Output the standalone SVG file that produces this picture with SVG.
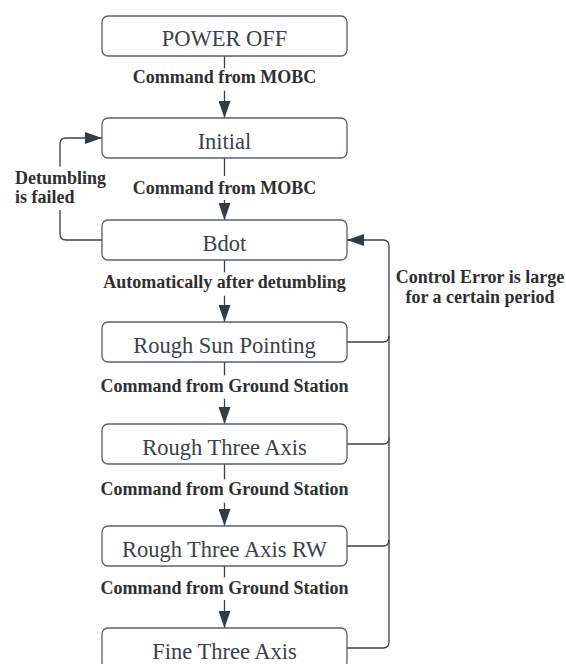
<svg xmlns="http://www.w3.org/2000/svg" width="566" height="664" viewBox="0 0 566 664">
  <style>
    .box { fill: #ffffff; stroke: #5a616b; stroke-width: 1.3; }
    .state { font-family: "Liberation Serif", "Times New Roman", serif; font-size: 22.5px; fill: #3a414a; text-anchor: middle; }
    .lbl { font-family: "Liberation Serif", "Times New Roman", serif; font-size: 18px; font-weight: bold; fill: #2f2f2f; }
    .mid { text-anchor: middle; }
    .conn { fill: none; stroke: #3a414a; stroke-width: 1.3; }
  </style>
  <defs>
    <marker id="arrow" viewBox="0 0 17 12" refX="17" refY="6" markerWidth="17" markerHeight="12" markerUnits="userSpaceOnUse" orient="auto">
      <path d="M0,0 L17,6 L0,12 Z" fill="#333b44"/>
    </marker>
  </defs>
  <rect x="0" y="0" width="566" height="664" fill="#ffffff"/>

  <g id="connectors">
    <path class="conn" d="M224.5,56 V68.3"/>
    <path class="conn" d="M224.5,90.7 V118" marker-end="url(#arrow)"/>
    <path class="conn" d="M224.5,158 V176"/>
    <path class="conn" d="M224.5,200 V220" marker-end="url(#arrow)"/>
    <path class="conn" d="M224.5,260 V272.3"/>
    <path class="conn" d="M224.5,295.7 V322" marker-end="url(#arrow)"/>
    <path class="conn" d="M224.5,362 V375.3"/>
    <path class="conn" d="M224.5,398.7 V424" marker-end="url(#arrow)"/>
    <path class="conn" d="M224.5,464 V479.3"/>
    <path class="conn" d="M224.5,502.7 V526" marker-end="url(#arrow)"/>
    <path class="conn" d="M224.5,566 V577.3"/>
    <path class="conn" d="M224.5,600 V628" marker-end="url(#arrow)"/>
    <!-- left loop: Bdot -> Initial -->
    <path class="conn" d="M102,240 H66 Q60,240 60,234 V210"/>
    <path class="conn" d="M60,166.7 V144 Q60,138 66,138 H102" marker-end="url(#arrow)"/>
    <!-- right loop: back to Bdot -->
    <path class="conn" d="M347,648 H383 Q389,648 389,642 V246 Q389,240 383,240 H347" marker-end="url(#arrow)"/>
    <path class="conn" d="M347,342 H383 Q389,342 389,336"/>
    <path class="conn" d="M347,444 H383 Q389,444 389,438"/>
    <path class="conn" d="M347,546 H383 Q389,546 389,540"/>
  </g>

  <g id="labels">
    <text class="lbl mid" x="224.5" y="83.3">Command from MOBC</text>
    <text class="lbl mid" x="224.5" y="193.7">Command from MOBC</text>
    <text class="lbl mid" x="224.5" y="288.3">Automatically after detumbling</text>
    <text class="lbl mid" x="224.5" y="392">Command from Ground Station</text>
    <text class="lbl mid" x="224.5" y="495">Command from Ground Station</text>
    <text class="lbl mid" x="224.5" y="594.3">Command from Ground Station</text>
    <text class="lbl" x="15" y="184">Detumbling</text>
    <text class="lbl" x="15" y="202.7">is failed</text>
    <text class="lbl mid" x="480" y="283.3">Control Error is large</text>
    <text class="lbl mid" x="480" y="303.3">for a certain period</text>
  </g>

  <g id="power-off">
    <rect class="box" x="102" y="16" width="245" height="40" rx="6"/>
    <text class="state" x="224.5" y="46">POWER OFF</text>
  </g>
  <g id="initial">
    <rect class="box" x="102" y="118" width="245" height="40" rx="6"/>
    <text class="state" x="224.5" y="148.5">Initial</text>
  </g>
  <g id="bdot">
    <rect class="box" x="102" y="220" width="245" height="40" rx="6"/>
    <text class="state" x="224.5" y="250.5">Bdot</text>
  </g>
  <g id="rough-sun-pointing">
    <rect class="box" x="102" y="322" width="245" height="40" rx="6"/>
    <text class="state" x="224.5" y="352.5">Rough Sun Pointing</text>
  </g>
  <g id="rough-three-axis">
    <rect class="box" x="102" y="424" width="245" height="40" rx="6"/>
    <text class="state" x="224.5" y="454.5">Rough Three Axis</text>
  </g>
  <g id="rough-three-axis-rw">
    <rect class="box" x="102" y="526" width="245" height="40" rx="6"/>
    <text class="state" x="224.5" y="556.5">Rough Three Axis RW</text>
  </g>
  <g id="fine-three-axis">
    <rect class="box" x="102" y="628" width="245" height="40" rx="6"/>
    <text class="state" x="224.5" y="658.5">Fine Three Axis</text>
  </g>
</svg>
